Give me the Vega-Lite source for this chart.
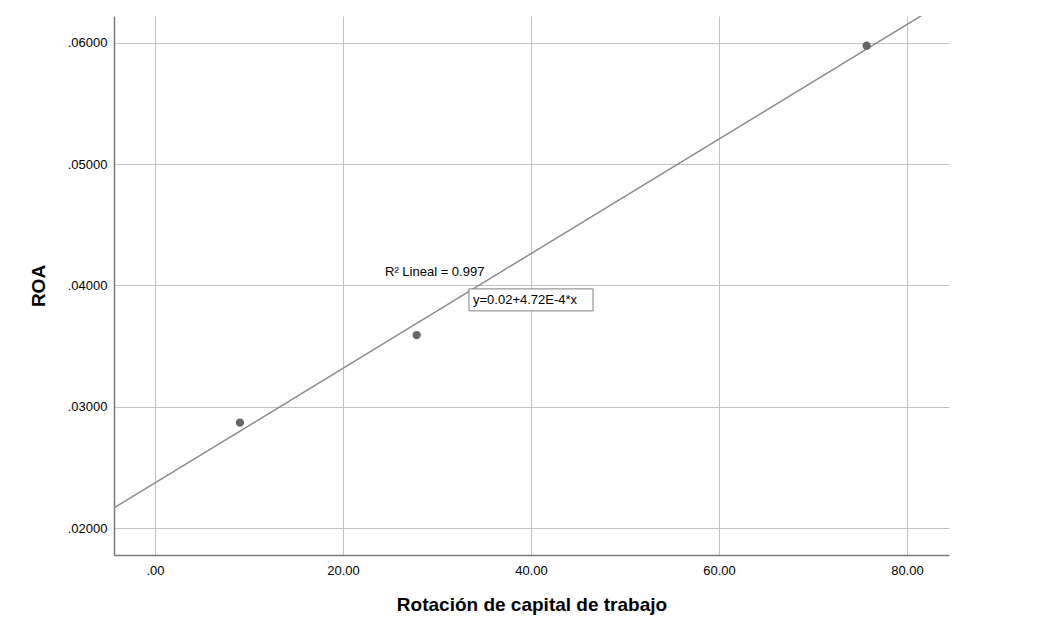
{
  "$schema": "https://vega.github.io/schema/vega-lite/v6.json",
  "width": 835,
  "height": 539,
  "autosize": "none",
  "padding": {"left": 114, "top": 16, "right": 92, "bottom": 70},
  "background": "white",
  "config": {
    "view": {"stroke": null},
    "font": "Liberation Sans, Arial, sans-serif"
  },
  "datasets": {
    "pts": [
      {"x": 9.04, "y": 0.0287},
      {"x": 27.84, "y": 0.03592},
      {"x": 75.71, "y": 0.05975}
    ],
    "box": [
      {"x": 33.4, "x2": 46.6, "y": 0.03791, "y2": 0.03972}
    ],
    "r2": [
      {"x": 24.47, "y": 0.04114, "label": "R² Lineal = 0.997"}
    ],
    "eq": [
      {"x": 33.83, "y": 0.03881, "label": "y=0.02+4.72E-4*x"}
    ]
  },
  "encoding": {
    "x": {
      "field": "x",
      "type": "quantitative",
      "scale": {"domain": [-4.36, 84.47], "nice": false, "zero": false},
      "axis": {
        "values": [0, 20, 40, 60, 80],
        "labelExpr": "datum.value == 0 ? '.00' : format(datum.value, '.2f')",
        "ticks": false,
        "labelPadding": 9,
        "labelFontSize": 13,
        "labelColor": "#000000",
        "domainColor": "#7a7a7a",
        "domainWidth": 1.5,
        "grid": true,
        "gridColor": "#c2c2c2",
        "gridWidth": 1,
        "title": "Rotación de capital de trabajo",
        "titleFontSize": 19,
        "titleFontWeight": "bold",
        "titleColor": "#000000",
        "titlePadding": 18
      }
    },
    "y": {
      "field": "y",
      "type": "quantitative",
      "scale": {"domain": [0.0178, 0.0622], "nice": false, "zero": false},
      "axis": {
        "values": [0.02, 0.03, 0.04, 0.05, 0.06],
        "labelExpr": "substring(format(datum.value, '.5f'), 1)",
        "ticks": false,
        "labelPadding": 7,
        "labelFontSize": 13,
        "labelColor": "#000000",
        "domainColor": "#7a7a7a",
        "domainWidth": 1.5,
        "grid": true,
        "gridColor": "#c2c2c2",
        "gridWidth": 1,
        "title": "ROA",
        "titleFontSize": 19,
        "titleFontWeight": "bold",
        "titleColor": "#000000",
        "titlePadding": 19
      }
    }
  },
  "layer": [
    {
      "data": {"name": "pts"},
      "transform": [{"regression": "y", "on": "x", "extent": [-4.36, 84.47]}],
      "mark": {"type": "line", "color": "#8c8c8c", "strokeWidth": 1.5, "clip": true}
    },
    {
      "data": {"name": "pts"},
      "mark": {"type": "point", "filled": true, "color": "#666666", "size": 68, "opacity": 1}
    },
    {
      "data": {"name": "box"},
      "mark": {"type": "rect", "fill": "white", "stroke": "#808080", "strokeWidth": 1},
      "encoding": {
        "x2": {"field": "x2"},
        "y2": {"field": "y2"}
      }
    },
    {
      "data": {"name": "r2"},
      "mark": {"type": "text", "align": "left", "baseline": "middle", "fontSize": 13, "color": "#000000"},
      "encoding": {"text": {"field": "label"}}
    },
    {
      "data": {"name": "eq"},
      "mark": {"type": "text", "align": "left", "baseline": "middle", "fontSize": 13, "color": "#000000"},
      "encoding": {"text": {"field": "label"}}
    }
  ]
}
